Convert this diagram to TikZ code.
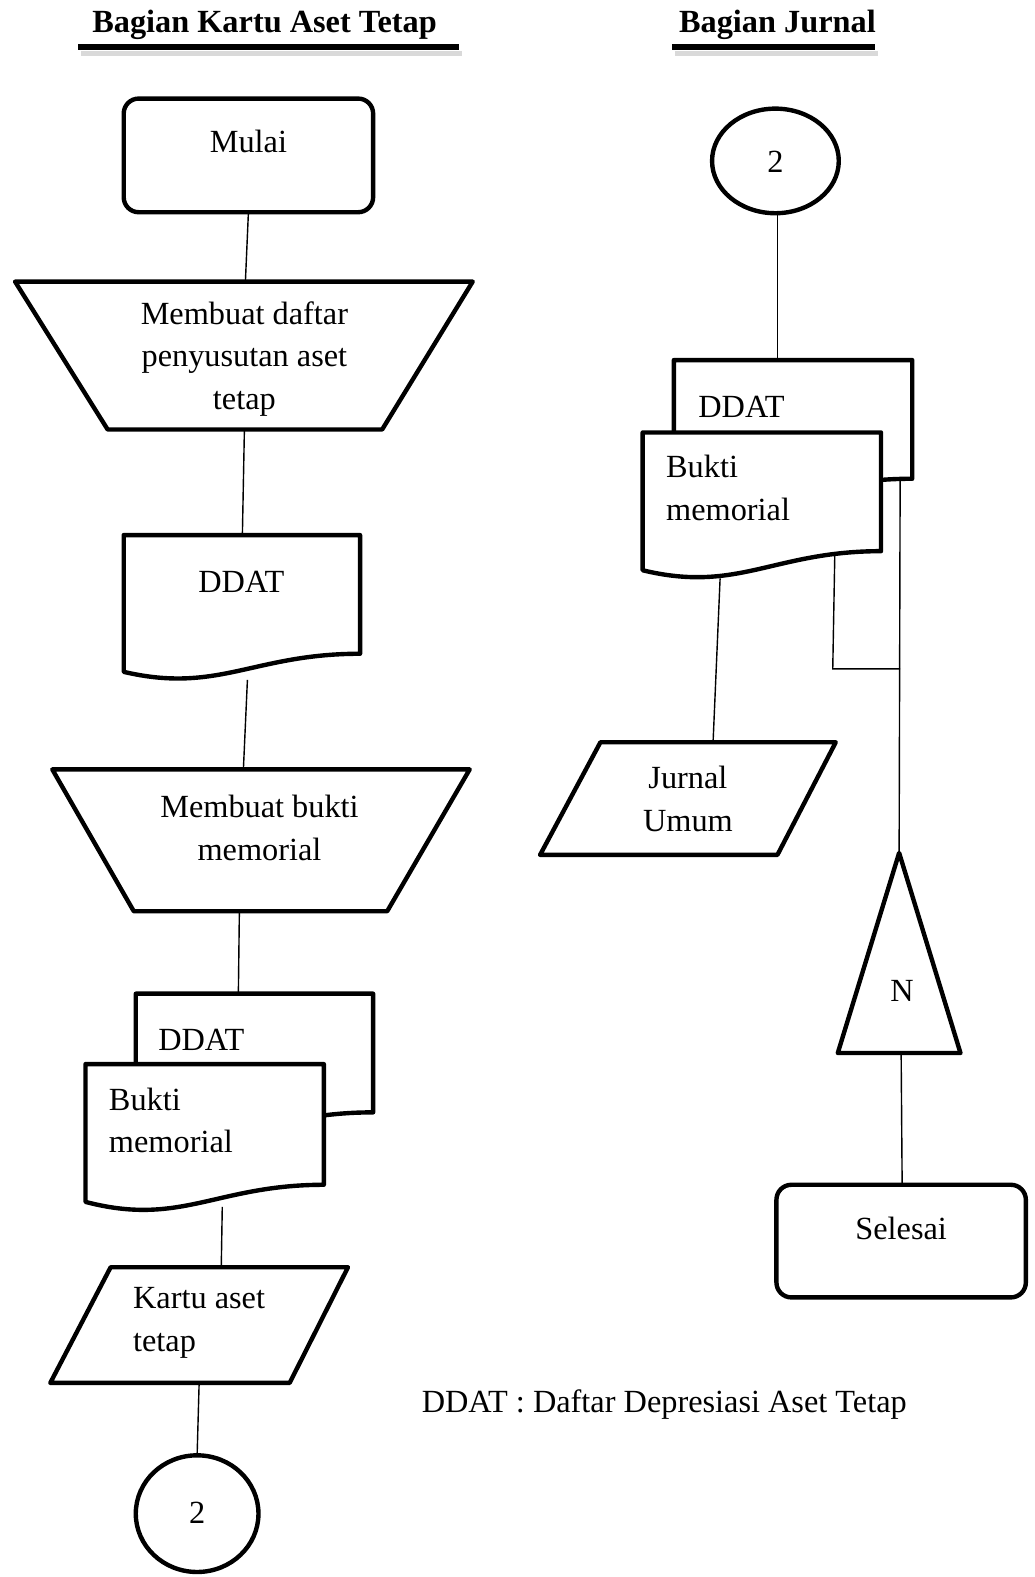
\documentclass[tikz,border=0pt]{standalone}
\usepackage{fontspec}
\setmainfont{Liberation Serif}
\usepackage{tikz}
\usetikzlibrary{positioning}

\begin{document}
\begin{tikzpicture}[
    x=0.02012cm, y=-0.02012cm,
    box/.style={line width=2.5pt, line join=round, fill=white},
    link/.style={line width=0.8pt},
    txt/.style={font=\fontsize{18.4}{24.4}\selectfont, align=center, inner sep=0pt},
    ttl/.style={font=\fontsize{18.4}{22}\selectfont\bfseries, inner sep=0pt}
  ]
  \useasboundingbox (0,0) rectangle (1029,1568);

  % headings
  \foreach \cx/\lx/\rx/\name/\txt in {263/78/456/hKartu/Bagian Kartu Aset Tetap,
                                       773/668/870/hJurnal/Bagian Jurnal} {
    \draw[gray!30, line width=3pt] (\lx+3,53) -- (\rx+3,53);
    \draw[line width=3.4pt] (\lx,47) -- (\rx,47);
    \node[ttl] (\name) at (\cx,25) {\txt};
  }

  % Bagian Kartu Aset Tetap
  \draw[box, rounded corners=3mm] (123,98) rectangle (371,211);
  \node[txt] (mulai) at (247,141) {Mulai};

  \draw[box] (15,280) -- (470,280) -- (380,427) -- (107,427) -- cycle;
  \node[txt] (daftar) at (243,357) {Membuat daftar\\penyusutan aset\\tetap};

  \draw[box] (123,532) -- (358,532) -- (358,650)
    .. controls (252,650) and (217,690) .. (123,668) -- cycle;
  \node[txt] (ddatA) at (240,579) {DDAT};

  \draw[box] (52,765) -- (467,765) -- (385,906) -- (133,906) -- cycle;
  \node[txt] (memoA) at (258,823) {Membuat bukti\\memorial};

  \draw[box] (135,988) -- (371,988) -- (371,1106)
    .. controls (265,1106) and (230,1146) .. (135,1124) -- cycle;
  \node[txt, anchor=west] (ddatB) at (157,1034) {DDAT};
  \draw[box] (85,1058) -- (322,1058) -- (322,1178)
    .. controls (215,1178) and (180,1220) .. (85,1195) -- cycle;
  \node[txt, align=left, anchor=west] (buktiA) at (108,1114) {Bukti\\memorial};

  \draw[box] (110,1260) -- (346,1260) -- (288,1375) -- (50,1375) -- cycle;
  \node[txt, align=left, anchor=west] (kartu) at (132,1315) {Kartu aset\\tetap};

  \draw[box] (196,1505) ellipse [x radius=61, y radius=58];
  \node[txt] (conA) at (196,1504) {2};

  % Bagian Jurnal
  \draw[box] (771,160) ellipse [x radius=63, y radius=52];
  \node[txt] (conB) at (771,161) {2};

  \draw[box] (670,358) -- (907,358) -- (907,476)
    .. controls (800,476) and (765,516) .. (670,494) -- cycle;
  \node[txt, anchor=west] (ddatC) at (694,405) {DDAT};
  \draw[box] (639,430) -- (876,430) -- (876,548)
    .. controls (769,548) and (734,590) .. (639,567) -- cycle;
  \node[txt, align=left, anchor=west] (buktiB) at (662,485) {Bukti\\memorial};

  \draw[box] (597,738) -- (831,738) -- (773,850) -- (537,850) -- cycle;
  \node[txt] (jurnal) at (684,794) {Jurnal\\Umum};

  \draw[box] (894,848) -- (955,1047) -- (833,1047) -- cycle;
  \node[txt] (arsip) at (897,985) {N};

  \draw[box, rounded corners=3mm] (772,1178) rectangle (1020,1290);
  \node[txt] (selesai) at (896,1221) {Selesai};

  \node[txt, anchor=west] (ket) at (419,1397) {DDAT : Daftar Depresiasi Aset Tetap};

  % connector ends
  \coordinate (mulai-s) at (247,211);
  \coordinate (daftar-n) at (244,280);
  \coordinate (daftar-s) at (243,427);
  \coordinate (ddatA-n) at (241,532);
  \coordinate (ddatA-s) at (246,676);
  \coordinate (memoA-n) at (242,765);
  \coordinate (memoA-s) at (238,906);
  \coordinate (ddatB-n) at (237,988);
  \coordinate (buktiA-s) at (221,1200);
  \coordinate (kartu-n) at (220,1260);
  \coordinate (kartu-s) at (198,1375);
  \coordinate (conA-n) at (196,1447);
  \coordinate (conB-s) at (773,212);
  \coordinate (ddatC-n) at (773,358);
  \coordinate (buktiB-s) at (716,575);
  \coordinate (jurnal-n) at (709,738);
  \coordinate (buktiB-e) at (830,553);
  \coordinate (tekuk) at (828,665);
  \coordinate (ddatC-s) at (895,478);
  \coordinate (sambung) at (895,665);
  \coordinate (arsip-n) at (894,848);
  \coordinate (arsip-s) at (896,1047);
  \coordinate (selesai-n) at (897,1178);

  \foreach \a/\b in {mulai-s/daftar-n, daftar-s/ddatA-n, ddatA-s/memoA-n,
                     memoA-s/ddatB-n, buktiA-s/kartu-n, kartu-s/conA-n,
                     conB-s/ddatC-n, buktiB-s/jurnal-n, ddatC-s/arsip-n,
                     arsip-s/selesai-n} {
    \draw[link] (\a) -- (\b);
  }
  \draw[link] (buktiB-e) -- (tekuk) -- (sambung);
\end{tikzpicture}
\end{document}
